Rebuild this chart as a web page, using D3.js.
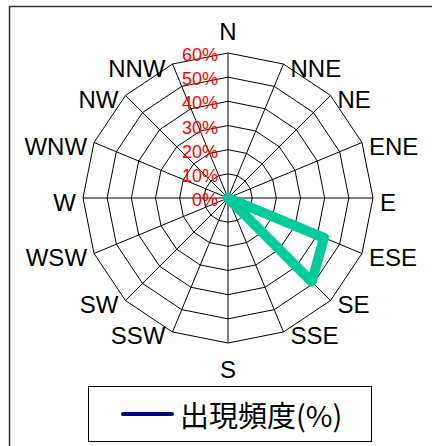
<!DOCTYPE html>
<html>
<head>
<meta charset="utf-8">
<script src="https://cdn.jsdelivr.net/npm/d3@7"></script>
<style>
  html, body { margin: 0; padding: 0; background: #fff; }
  svg { display: block; }
</style>
</head>
<body>
<svg id="chart" width="432" height="446"></svg>
<script>
// Wind-direction categories, clockwise from north
const directions = ["N", "NNE", "NE", "ENE", "E", "ESE", "SE", "SSE",
                    "S", "SSW", "SW", "WSW", "W", "WNW", "NW", "NNW"];
// Frequency of occurrence (%) per direction
const frequency = [0, 0, 0, 0, 0, 43, 49, 0, 0, 0, 0, 0, 0, 0, 0, 0];
// Radial axis ticks (%)
const radialTicks = [0, 10, 20, 30, 40, 50, 60];
const seriesName = "出現頻度(%)";

const svg = d3.select("#chart");
const cx = 228, cy = 198, R = 145;
const latin = "'Liberation Sans', Arial, sans-serif";

// outer frame
svg.append("path")
  .attr("d", "M9.5,446 L9.5,6.5 L432,6.5")
  .attr("fill", "none").attr("stroke", "#333").attr("stroke-width", 1.5);

const r = d3.scaleLinear().domain([0, 60]).range([0, R]);
const angle = d3.scalePoint().domain(directions).range([0, 2 * Math.PI * 15 / 16]);
const pt = (dir, v) => {
  const a = angle(dir);
  return [cx + r(v) * Math.sin(a), cy - r(v) * Math.cos(a)];
};

const g = svg.append("g");

// ring polygons
radialTicks.slice(1).forEach(t => {
  g.append("path")
    .attr("d", d3.line()(directions.map(d => pt(d, t))) + "Z")
    .attr("fill", "none").attr("stroke", "#000").attr("stroke-width", 1);
});

// spokes
directions.forEach(d => {
  const [x, y] = pt(d, 60);
  g.append("line").attr("x1", cx).attr("y1", cy).attr("x2", x).attr("y2", y)
    .attr("stroke", "#000").attr("stroke-width", 1);
});

// direction labels
directions.forEach(d => {
  const a = angle(d);
  const [x, y] = pt(d, 60);
  const s = Math.sin(a), c = Math.cos(a);
  let anchor = "middle", tx = x, ty = y + 4;
  if (Math.abs(s) < 1e-6) {
    ty = c > 0 ? y - 22 : y + 26;
  } else if (s > 0) {
    anchor = "start"; tx = x + 7;
  } else {
    anchor = "end"; tx = x - 7;
  }
  svg.append("text")
    .attr("x", tx).attr("y", ty)
    .attr("text-anchor", anchor)
    .attr("dominant-baseline", "central")
    .attr("font-family", latin).attr("font-size", 24)
    .attr("fill", "#000")
    .text(d);
});

// series polygon
svg.append("path")
  .attr("d", d3.line()(directions.map((d, i) => pt(d, frequency[i]))) + "Z")
  .attr("fill", "none").attr("stroke", "#00CC99").attr("stroke-width", 10)
  .attr("stroke-linejoin", "round");

// radial tick labels
radialTicks.forEach(t => {
  svg.append("text")
    .attr("x", 218).attr("y", cy - r(t) + 2)
    .attr("text-anchor", "end")
    .attr("dominant-baseline", "central")
    .attr("font-family", latin).attr("font-size", 18)
    .attr("fill", "#FF0000")
    .text(t + "%");
});

// legend
const lg = svg.append("g");
lg.append("rect").attr("x", 88.5).attr("y", 386.5).attr("width", 283).attr("height", 55)
  .attr("fill", "#fff").attr("stroke", "#000").attr("stroke-width", 1);
lg.append("line").attr("x1", 123).attr("x2", 172).attr("y1", 414).attr("y2", 414)
  .attr("stroke", "#000080").attr("stroke-width", 4).attr("stroke-linecap", "round");
lg.append("text").attr("x", 180).attr("y", 414)
  .attr("dominant-baseline", "central")
  .attr("font-family", "'Noto Sans CJK JP', sans-serif").attr("font-size", 29)
  .attr("fill", "#000")
  .text(seriesName);
</script>
</body>
</html>
